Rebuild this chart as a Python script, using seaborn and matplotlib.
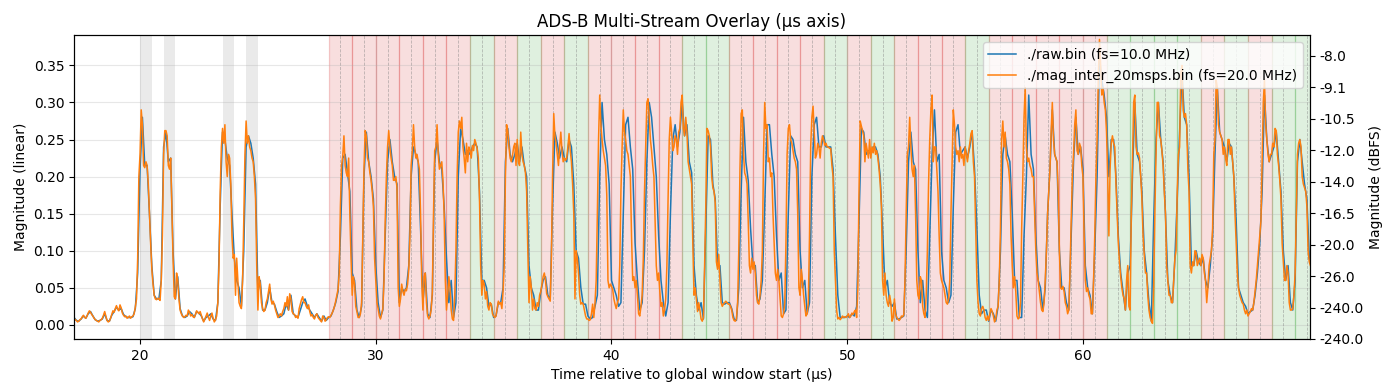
import numpy as np
import matplotlib
matplotlib.use('Agg')
import matplotlib.pyplot as plt
import matplotlib.colors as mcolors
import seaborn as sns

#%% DATOS

# muestras de magnitud, una fila por microsegundo (t0 = 17.0 us)
raw_mag = [
    0.012, 0.010, 0.010, 0.006, 0.005, 0.008, 0.012, 0.009, 0.015, 0.018,  # 17
    0.012, 0.007, 0.005, 0.006, 0.008, 0.015, 0.006, 0.005, 0.013, 0.018,  # 18
    0.024, 0.020, 0.022, 0.014, 0.011, 0.010, 0.010, 0.011, 0.022, 0.070,  # 19
    0.210, 0.280, 0.215, 0.215, 0.150, 0.080, 0.040, 0.035, 0.035, 0.060,  # 20
    0.240, 0.260, 0.220, 0.225, 0.100, 0.035, 0.065, 0.022, 0.012, 0.010,  # 21
    0.012, 0.018, 0.015, 0.010, 0.018, 0.016, 0.012, 0.005, 0.010, 0.012,  # 22
    0.015, 0.008, 0.006, 0.030, 0.160, 0.260, 0.250, 0.225, 0.215, 0.150,  # 23
    0.090, 0.060, 0.050, 0.025, 0.100, 0.240, 0.255, 0.245, 0.225, 0.190,  # 24
    0.045, 0.060, 0.020, 0.020, 0.030, 0.050, 0.030, 0.028, 0.018, 0.010,  # 25
    0.012, 0.015, 0.028, 0.020, 0.040, 0.015, 0.012, 0.010, 0.020, 0.030,  # 26
    0.035, 0.025, 0.020, 0.015, 0.010, 0.015, 0.010, 0.005, 0.012, 0.006,  # 27
    0.010, 0.012, 0.020, 0.030, 0.045, 0.120, 0.225, 0.230, 0.205, 0.180,  # 28
    0.070, 0.060, 0.020, 0.010, 0.025, 0.200, 0.260, 0.220, 0.200, 0.170,  # 29
    0.080, 0.030, 0.010, 0.020, 0.120, 0.220, 0.250, 0.220, 0.200, 0.190,  # 30
    0.030, 0.050, 0.045, 0.050, 0.080, 0.200, 0.240, 0.230, 0.220, 0.130,  # 31
    0.030, 0.070, 0.015, 0.010, 0.040, 0.220, 0.250, 0.220, 0.210, 0.160,  # 32
    0.090, 0.030, 0.060, 0.010, 0.030, 0.200, 0.265, 0.250, 0.230, 0.235,  # 33
    0.230, 0.240, 0.245, 0.240, 0.180, 0.060, 0.060, 0.050, 0.025, 0.028,  # 34
    0.010, 0.012, 0.030, 0.030, 0.050, 0.220, 0.265, 0.230, 0.220, 0.230,  # 35
    0.245, 0.220, 0.240, 0.215, 0.200, 0.080, 0.050, 0.040, 0.020, 0.020,  # 36
    0.045, 0.060, 0.065, 0.040, 0.035, 0.160, 0.260, 0.245, 0.225, 0.240,  # 37
    0.225, 0.220, 0.250, 0.240, 0.190, 0.100, 0.090, 0.050, 0.028, 0.028,  # 38
    0.012, 0.008, 0.010, 0.025, 0.040, 0.200, 0.300, 0.250, 0.230, 0.190,  # 39
    0.060, 0.050, 0.040, 0.025, 0.030, 0.150, 0.270, 0.280, 0.240, 0.210,  # 40
    0.110, 0.060, 0.020, 0.030, 0.100, 0.220, 0.300, 0.280, 0.240, 0.200,  # 41
    0.120, 0.060, 0.030, 0.012, 0.030, 0.150, 0.250, 0.270, 0.240, 0.260,  # 42
    0.300, 0.255, 0.270, 0.220, 0.205, 0.080, 0.040, 0.020, 0.030, 0.008,  # 43
    0.130, 0.255, 0.250, 0.190, 0.170, 0.080, 0.080, 0.030, 0.028, 0.030,  # 44
    0.030, 0.022, 0.008, 0.006, 0.050, 0.180, 0.280, 0.220, 0.195, 0.130,  # 45
    0.080, 0.080, 0.030, 0.035, 0.060, 0.160, 0.270, 0.270, 0.230, 0.200,  # 46
    0.120, 0.060, 0.070, 0.015, 0.020, 0.150, 0.255, 0.250, 0.230, 0.220,  # 47
    0.100, 0.050, 0.060, 0.015, 0.030, 0.200, 0.270, 0.280, 0.240, 0.240,  # 48
    0.255, 0.240, 0.240, 0.240, 0.210, 0.120, 0.040, 0.010, 0.010, 0.010,  # 49
    0.012, 0.010, 0.015, 0.012, 0.025, 0.140, 0.265, 0.260, 0.230, 0.235,  # 50
    0.230, 0.240, 0.240, 0.230, 0.200, 0.130, 0.050, 0.060, 0.030, 0.025,  # 51
    0.030, 0.008, 0.008, 0.010, 0.012, 0.100, 0.220, 0.260, 0.220, 0.210,  # 52
    0.100, 0.030, 0.060, 0.020, 0.010, 0.120, 0.230, 0.290, 0.220, 0.230,  # 53
    0.100, 0.060, 0.050, 0.030, 0.040, 0.160, 0.260, 0.270, 0.230, 0.235,  # 54
    0.240, 0.225, 0.240, 0.260, 0.210, 0.130, 0.040, 0.015, 0.020, 0.020,  # 55
    0.005, 0.020, 0.015, 0.005, 0.025, 0.100, 0.230, 0.255, 0.230, 0.220,  # 56
    0.150, 0.060, 0.060, 0.010, 0.010, 0.120, 0.200, 0.310, 0.230, 0.210,  # 57
    0.120, 0.060, 0.050, 0.020, 0.050, 0.150, 0.210, 0.290, 0.230, 0.220,  # 58
    0.100, 0.050, 0.050, 0.030, 0.020, 0.120, 0.220, 0.280, 0.230, 0.240,  # 59
    0.210, 0.080, 0.050, 0.040, 0.015, 0.100, 0.200, 0.360, 0.330, 0.310,  # 60
    0.280, 0.200, 0.250, 0.250, 0.200, 0.120, 0.070, 0.045, 0.020, 0.070,  # 61
    0.080, 0.200, 0.300, 0.230, 0.220, 0.180, 0.100, 0.070, 0.030, 0.005,  # 62
    0.140, 0.250, 0.300, 0.250, 0.220, 0.150, 0.060, 0.040, 0.030, 0.090,  # 63
    0.170, 0.260, 0.340, 0.280, 0.270, 0.200, 0.080, 0.080, 0.100, 0.085,  # 64
    0.080, 0.090, 0.060, 0.050, 0.080, 0.120, 0.230, 0.320, 0.260, 0.250,  # 65
    0.240, 0.220, 0.245, 0.240, 0.200, 0.140, 0.050, 0.040, 0.030, 0.025,  # 66
    0.015, 0.018, 0.020, 0.040, 0.070, 0.110, 0.180, 0.310, 0.250, 0.220,  # 67
    0.230, 0.240, 0.260, 0.220, 0.180, 0.100, 0.060, 0.080, 0.030, 0.020,  # 68
    0.060, 0.220, 0.250, 0.220, 0.190, 0.170, 0.090, 0.080,                # 69
]

inter_mag = [
    0.012, 0.011, 0.010, 0.008, 0.009, 0.007, 0.006, 0.004, 0.005, 0.007, 0.008, 0.011, 0.013, 0.010, 0.009, 0.012, 0.016, 0.019, 0.017, 0.014,  # 17
    0.012, 0.009, 0.007, 0.006, 0.005, 0.004, 0.006, 0.007, 0.009, 0.013, 0.018, 0.012, 0.006, 0.004, 0.005, 0.009, 0.014, 0.019, 0.017, 0.022,  # 18
    0.026, 0.021, 0.019, 0.027, 0.023, 0.016, 0.013, 0.011, 0.012, 0.009, 0.010, 0.012, 0.009, 0.011, 0.012, 0.015, 0.024, 0.035, 0.090, 0.200,  # 19
    0.230, 0.290, 0.270, 0.215, 0.212, 0.220, 0.215, 0.190, 0.150, 0.110, 0.075, 0.055, 0.040, 0.035, 0.034, 0.036, 0.035, 0.033, 0.060, 0.120,  # 20
    0.230, 0.262, 0.262, 0.255, 0.215, 0.210, 0.225, 0.160, 0.090, 0.038, 0.035, 0.070, 0.060, 0.035, 0.020, 0.015, 0.012, 0.010, 0.011, 0.013,  # 21
    0.012, 0.020, 0.017, 0.012, 0.014, 0.011, 0.010, 0.014, 0.019, 0.017, 0.015, 0.018, 0.013, 0.008, 0.004, 0.008, 0.012, 0.016, 0.010, 0.006,  # 22
    0.012, 0.016, 0.009, 0.004, 0.007, 0.012, 0.030, 0.080, 0.180, 0.240, 0.265, 0.245, 0.270, 0.220, 0.200, 0.230, 0.225, 0.190, 0.120, 0.090,  # 23
    0.095, 0.040, 0.090, 0.060, 0.030, 0.025, 0.022, 0.060, 0.140, 0.230, 0.275, 0.245, 0.255, 0.240, 0.235, 0.225, 0.220, 0.200, 0.170, 0.080,  # 24
    0.020, 0.065, 0.055, 0.030, 0.022, 0.018, 0.020, 0.030, 0.035, 0.045, 0.055, 0.035, 0.028, 0.032, 0.027, 0.020, 0.015, 0.010, 0.012, 0.015,  # 25
    0.012, 0.018, 0.022, 0.030, 0.025, 0.038, 0.020, 0.042, 0.035, 0.018, 0.015, 0.014, 0.010, 0.012, 0.009, 0.022, 0.028, 0.034, 0.038, 0.030,  # 26
    0.030, 0.025, 0.022, 0.027, 0.018, 0.012, 0.014, 0.010, 0.008, 0.013, 0.015, 0.010, 0.008, 0.006, 0.004, 0.012, 0.010, 0.005, 0.007, 0.010,  # 27
    0.011, 0.010, 0.013, 0.016, 0.020, 0.025, 0.032, 0.040, 0.048, 0.070, 0.160, 0.215, 0.228, 0.255, 0.215, 0.205, 0.200, 0.225, 0.150, 0.090,  # 28
    0.040, 0.065, 0.055, 0.025, 0.018, 0.010, 0.010, 0.015, 0.030, 0.120, 0.210, 0.262, 0.255, 0.225, 0.220, 0.205, 0.195, 0.180, 0.160, 0.090,  # 29
    0.060, 0.030, 0.022, 0.012, 0.008, 0.015, 0.022, 0.060, 0.140, 0.200, 0.240, 0.262, 0.240, 0.225, 0.215, 0.195, 0.195, 0.200, 0.185, 0.050,  # 30
    0.025, 0.035, 0.055, 0.045, 0.040, 0.048, 0.046, 0.055, 0.075, 0.120, 0.215, 0.235, 0.270, 0.240, 0.225, 0.230, 0.220, 0.210, 0.150, 0.060,  # 31
    0.020, 0.065, 0.070, 0.030, 0.012, 0.008, 0.012, 0.020, 0.045, 0.150, 0.235, 0.240, 0.270, 0.230, 0.210, 0.215, 0.220, 0.195, 0.150, 0.060,  # 32
    0.020, 0.040, 0.065, 0.050, 0.020, 0.008, 0.006, 0.040, 0.100, 0.200, 0.260, 0.275, 0.265, 0.280, 0.240, 0.225, 0.205, 0.245, 0.220, 0.240,  # 33
    0.235, 0.225, 0.242, 0.235, 0.250, 0.245, 0.238, 0.225, 0.170, 0.080, 0.040, 0.060, 0.055, 0.035, 0.045, 0.025, 0.020, 0.030, 0.028, 0.015,  # 34
    0.012, 0.010, 0.012, 0.022, 0.032, 0.028, 0.030, 0.022, 0.045, 0.080, 0.200, 0.270, 0.262, 0.240, 0.225, 0.220, 0.228, 0.240, 0.245, 0.215,  # 35
    0.250, 0.220, 0.215, 0.260, 0.230, 0.220, 0.215, 0.205, 0.180, 0.100, 0.030, 0.065, 0.050, 0.020, 0.035, 0.022, 0.020, 0.030, 0.025, 0.040,  # 36
    0.045, 0.055, 0.065, 0.070, 0.060, 0.042, 0.038, 0.035, 0.032, 0.090, 0.200, 0.285, 0.255, 0.245, 0.230, 0.215, 0.240, 0.260, 0.235, 0.220,  # 37
    0.225, 0.222, 0.225, 0.240, 0.258, 0.235, 0.220, 0.190, 0.150, 0.035, 0.100, 0.090, 0.070, 0.040, 0.028, 0.030, 0.028, 0.020, 0.012, 0.008,  # 38
    0.008, 0.006, 0.007, 0.015, 0.028, 0.010, 0.030, 0.060, 0.150, 0.250, 0.310, 0.270, 0.250, 0.235, 0.225, 0.215, 0.175, 0.060, 0.050, 0.055,  # 39
    0.052, 0.048, 0.035, 0.028, 0.022, 0.030, 0.035, 0.080, 0.180, 0.240, 0.290, 0.260, 0.250, 0.235, 0.230, 0.215, 0.200, 0.120, 0.060, 0.065,  # 40
    0.050, 0.060, 0.040, 0.015, 0.012, 0.025, 0.040, 0.090, 0.180, 0.240, 0.300, 0.305, 0.280, 0.250, 0.235, 0.215, 0.200, 0.140, 0.080, 0.060,  # 41
    0.070, 0.045, 0.025, 0.030, 0.012, 0.020, 0.035, 0.080, 0.170, 0.250, 0.280, 0.260, 0.235, 0.240, 0.255, 0.250, 0.230, 0.260, 0.265, 0.300,  # 42
    0.310, 0.265, 0.255, 0.280, 0.260, 0.220, 0.210, 0.200, 0.190, 0.110, 0.040, 0.050, 0.035, 0.018, 0.030, 0.020, 0.008, 0.005, 0.010, 0.080,  # 43
    0.160, 0.265, 0.262, 0.255, 0.240, 0.200, 0.185, 0.180, 0.165, 0.085, 0.075, 0.095, 0.060, 0.030, 0.025, 0.028, 0.030, 0.032, 0.030, 0.028,  # 44
    0.028, 0.025, 0.020, 0.010, 0.006, 0.005, 0.008, 0.030, 0.100, 0.210, 0.285, 0.290, 0.230, 0.205, 0.200, 0.190, 0.140, 0.080, 0.070, 0.090,  # 45
    0.075, 0.085, 0.070, 0.040, 0.030, 0.028, 0.040, 0.060, 0.100, 0.230, 0.300, 0.265, 0.270, 0.220, 0.225, 0.200, 0.205, 0.150, 0.110, 0.070,  # 46
    0.060, 0.075, 0.060, 0.035, 0.012, 0.010, 0.015, 0.030, 0.110, 0.230, 0.265, 0.270, 0.250, 0.245, 0.235, 0.225, 0.220, 0.210, 0.150, 0.050,  # 47
    0.040, 0.075, 0.060, 0.040, 0.025, 0.012, 0.015, 0.030, 0.120, 0.240, 0.280, 0.295, 0.260, 0.225, 0.230, 0.245, 0.240, 0.225, 0.245, 0.255,  # 48
    0.250, 0.242, 0.245, 0.240, 0.240, 0.238, 0.238, 0.215, 0.200, 0.100, 0.060, 0.020, 0.008, 0.010, 0.007, 0.009, 0.012, 0.010, 0.011, 0.010,  # 49
    0.012, 0.015, 0.010, 0.012, 0.016, 0.014, 0.018, 0.020, 0.010, 0.050, 0.180, 0.275, 0.268, 0.262, 0.255, 0.220, 0.245, 0.235, 0.225, 0.250,  # 50
    0.225, 0.240, 0.232, 0.245, 0.230, 0.235, 0.225, 0.210, 0.190, 0.160, 0.060, 0.040, 0.070, 0.040, 0.030, 0.025, 0.040, 0.030, 0.005, 0.010,  # 51
    0.035, 0.015, 0.010, 0.008, 0.006, 0.008, 0.012, 0.011, 0.014, 0.060, 0.150, 0.230, 0.240, 0.280, 0.240, 0.210, 0.200, 0.215, 0.150, 0.060,  # 52
    0.040, 0.035, 0.065, 0.060, 0.025, 0.015, 0.010, 0.040, 0.100, 0.190, 0.250, 0.290, 0.310, 0.220, 0.240, 0.240, 0.210, 0.180, 0.120, 0.070,  # 53
    0.060, 0.055, 0.050, 0.040, 0.030, 0.028, 0.035, 0.060, 0.150, 0.220, 0.290, 0.270, 0.240, 0.230, 0.235, 0.220, 0.240, 0.225, 0.230, 0.215,  # 54
    0.240, 0.230, 0.220, 0.235, 0.245, 0.258, 0.262, 0.220, 0.200, 0.130, 0.060, 0.030, 0.015, 0.012, 0.022, 0.025, 0.020, 0.010, 0.006, 0.012,  # 55
    0.006, 0.015, 0.022, 0.018, 0.012, 0.004, 0.008, 0.020, 0.025, 0.060, 0.130, 0.250, 0.275, 0.240, 0.260, 0.225, 0.220, 0.210, 0.190, 0.120,  # 56
    0.080, 0.050, 0.065, 0.045, 0.012, 0.008, 0.010, 0.030, 0.130, 0.200, 0.280, 0.320, 0.240, 0.220, 0.225, 0.215, 0.210, 0.200, 0.200, 0.150,  # 57
    0.100, 0.070, 0.060, 0.045, 0.030, 0.020, 0.018, 0.030, 0.060, 0.100, 0.150, 0.180, 0.210, 0.260, 0.300, 0.250, 0.230, 0.225, 0.220, 0.180,  # 58
    0.100, 0.050, 0.048, 0.052, 0.045, 0.030, 0.025, 0.015, 0.020, 0.070, 0.140, 0.200, 0.230, 0.270, 0.290, 0.235, 0.230, 0.245, 0.240, 0.215,  # 59
    0.200, 0.120, 0.060, 0.045, 0.050, 0.040, 0.035, 0.015, 0.015, 0.060, 0.120, 0.200, 0.250, 0.330, 0.385, 0.350, 0.310, 0.320, 0.300, 0.290,  # 60
    0.260, 0.200, 0.120, 0.210, 0.245, 0.255, 0.245, 0.240, 0.190, 0.150, 0.110, 0.085, 0.065, 0.050, 0.040, 0.035, 0.020, 0.060, 0.080, 0.025,  # 61
    0.020, 0.150, 0.220, 0.300, 0.310, 0.240, 0.230, 0.232, 0.225, 0.200, 0.170, 0.120, 0.095, 0.070, 0.070, 0.040, 0.020, 0.010, 0.005, 0.002,  # 62
    0.050, 0.150, 0.230, 0.300, 0.300, 0.255, 0.250, 0.235, 0.215, 0.180, 0.150, 0.080, 0.060, 0.040, 0.040, 0.030, 0.030, 0.060, 0.090, 0.100,  # 63
    0.180, 0.230, 0.240, 0.340, 0.350, 0.290, 0.280, 0.285, 0.270, 0.210, 0.180, 0.080, 0.070, 0.085, 0.080, 0.100, 0.098, 0.080, 0.085, 0.090,  # 64
    0.080, 0.095, 0.090, 0.070, 0.060, 0.030, 0.050, 0.080, 0.090, 0.100, 0.130, 0.230, 0.250, 0.330, 0.320, 0.270, 0.260, 0.255, 0.250, 0.230,  # 65
    0.240, 0.225, 0.215, 0.250, 0.250, 0.230, 0.240, 0.220, 0.200, 0.150, 0.110, 0.070, 0.050, 0.040, 0.035, 0.030, 0.028, 0.020, 0.015, 0.020,  # 66
    0.012, 0.015, 0.018, 0.022, 0.020, 0.030, 0.045, 0.060, 0.080, 0.100, 0.120, 0.140, 0.220, 0.300, 0.330, 0.270, 0.250, 0.230, 0.220, 0.230,  # 67
    0.230, 0.245, 0.240, 0.265, 0.262, 0.230, 0.215, 0.195, 0.170, 0.110, 0.085, 0.060, 0.060, 0.080, 0.070, 0.030, 0.020, 0.020, 0.022, 0.040,  # 68
    0.070, 0.150, 0.230, 0.245, 0.250, 0.240, 0.200, 0.190, 0.185, 0.180, 0.160, 0.100, 0.085, 0.080,                                            # 69
]

t_inicio = 17.0          # us
fs_raw = 10.0            # MHz
fs_inter = 20.0          # MHz

# bits del mensaje (desde 28 us), R/G segun el color del fondo
bits_inicio = 28.0
bits_estado = ['R', 'R', 'R', 'R', 'R', 'R', 'G', 'R', 'G', 'R',
               'G', 'R', 'R', 'R', 'R', 'G', 'G', 'R', 'R', 'R',
               'R', 'G', 'R', 'G', 'R', 'R', 'R', 'G', 'R', 'R',
               'R', 'R', 'R', 'G', 'G', 'G', 'G', 'R', 'G', 'R',
               'G', 'G']

# pulsos del preambulo (inicio, us)
preambulo = [20.0, 21.0, 23.5, 24.5]

# etiquetas del eje derecho (de abajo hacia arriba)
dbfs_labels = ['-240.0', '-240.0', '-26.0', '-20.0', '-16.5',
               '-14.0', '-12.0', '-10.5', '-9.1', '-8.0']

label_raw = './raw.bin (fs=10.0 MHz)'
label_inter = './mag_inter_20msps.bin (fs=20.0 MHz)'

t_raw = t_inicio + np.arange(len(raw_mag)) / fs_raw
t_inter = t_inicio + np.arange(len(inter_mag)) / fs_inter

#%% GRAFICO

fig, ax = plt.subplots(figsize=(13.89, 3.90), dpi=100)
plt.subplots_adjust(left=0.0533, right=0.9431, top=0.9103, bottom=0.1308)

ylim = (-0.019, 0.391)

## fondos ----
for p in preambulo:
    ax.axvspan(p, p + 0.5, color='gray', alpha=0.16, lw=0)

colores = {'R': mcolors.to_rgb('tab:red'), 'G': mcolors.to_rgb('tab:green')}
for i, b in enumerate(bits_estado):
    t0 = bits_inicio + i
    c = colores[b]
    ax.axvspan(t0, t0 + 1, facecolor=(*c, 0.15), edgecolor=(*c, 0.22), lw=0.9)
    ax.axvline(t0 + 0.5, color='gray', ls='--', lw=0.6, alpha=0.5)

## curvas ----
sns.lineplot(x=t_raw, y=raw_mag, ax=ax, color='tab:blue', lw=1.1,
             label=label_raw, estimator=None, errorbar=None)
sns.lineplot(x=t_inter, y=inter_mag, ax=ax, color='tab:orange', lw=1.1,
             label=label_inter, estimator=None, errorbar=None)

ax.set_xlim(17.2, 69.63)
ax.set_ylim(*ylim)
ax.grid(True, alpha=0.3)
ax.set_title('ADS-B Multi-Stream Overlay (µs axis)')
ax.set_xlabel('Time relative to global window start (µs)')
ax.set_ylabel('Magnitude (linear)')
ax.legend(loc='upper right')

## eje derecho ----
ax2 = ax.twinx()
ax2.set_ylim(*ylim)
ax2.set_yticks(np.linspace(ylim[0], 0.3627, len(dbfs_labels)))
ax2.set_yticklabels(dbfs_labels)
ax2.set_ylabel('Magnitude (dBFS)')

fig.savefig('out.png', dpi=100)
